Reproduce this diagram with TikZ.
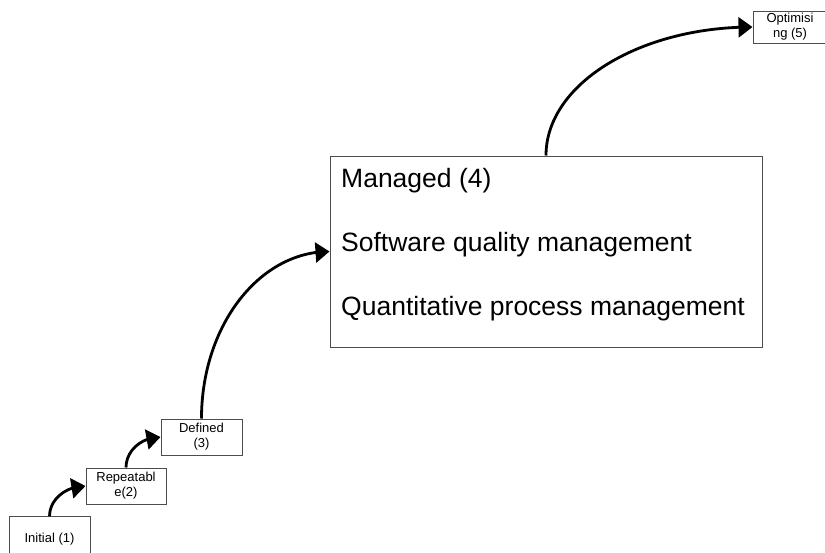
\documentclass[tikz,border=0pt]{standalone}
\usepackage{fontspec}
\setmainfont{Liberation Sans}
\usetikzlibrary{arrows.meta,bending,calc}
\begin{document}
\begin{tikzpicture}[x=1pt,y=-1pt,
  stage/.style={draw=black!70, line width=1pt, rectangle, inner sep=0pt,
    align=center, font=\fontsize{13}{15}\selectfont},
  bigbox/.style={draw=black!70, line width=1pt, rectangle, inner sep=0pt},
  bigtext/.style={anchor=base west, inner sep=0pt, font=\fontsize{26.5}{30}\selectfont},
  flow/.style={line width=2.8pt, -{Triangle[length=14pt,width=20pt,flex]}},
]
\useasboundingbox (0,0) rectangle (825,552);
\clip (0,0) rectangle (825,552);

\node[stage, minimum width=81pt, minimum height=44pt] (init) at (49.5,538.7) {Initial (1)};
\node[stage, minimum width=80pt, minimum height=36pt] (rep) at (126,486) {Repeatabl\\e(2)};
\node[stage, minimum width=81pt, minimum height=36pt] (def) at (201.5,437) {Defined\\(3)};
\node[bigbox, minimum width=432pt, minimum height=191pt] (man) at (546,251.5) {};
\node[bigtext] (m1) at (341,187.3) {Managed (4)};
\node[bigtext] (m2) at (341,251) {Software quality management};
\node[bigtext] (m3) at (341,315.3) {Quantitative process management};
\node[stage, minimum width=74pt, minimum height=32pt] (opt) at (790,27) {Optimisi\\ng (5)};

\draw[flow] (init.north) .. controls ($(init.north)!0.552!(init.north |- rep.west)$)
  and ($(rep.west)!0.552!(init.north |- rep.west)$) .. (rep.west);
\draw[flow] (rep.north) .. controls ($(rep.north)!0.552!(rep.north |- def.west)$)
  and ($(def.west)!0.552!(rep.north |- def.west)$) .. (def.west);
\draw[flow] (def.north) .. controls ($(def.north)!0.552!(def.north |- man.west)$)
  and ($(man.west)!0.552!(def.north |- man.west)$) .. (man.west);
\draw[flow] (man.north) .. controls ($(man.north)!0.552!(man.north |- opt.west)$)
  and ($(opt.west)!0.552!(man.north |- opt.west)$) .. (opt.west);
\end{tikzpicture}
\end{document}
